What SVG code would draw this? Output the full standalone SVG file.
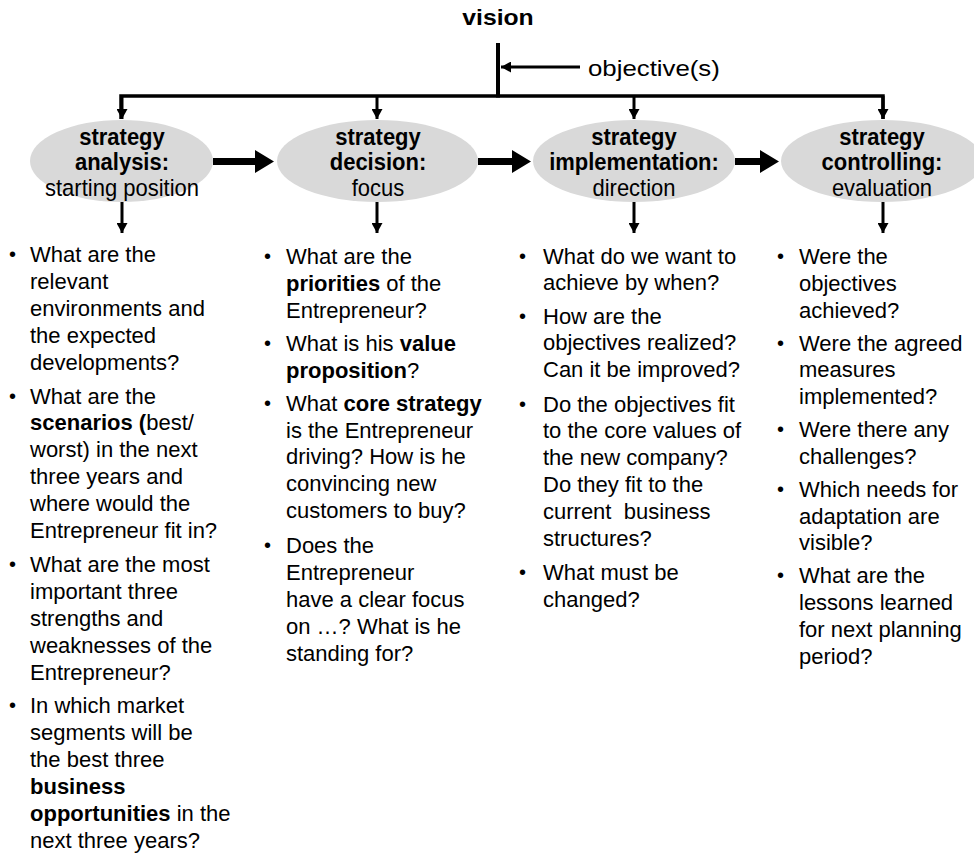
<svg xmlns="http://www.w3.org/2000/svg" width="974" height="853" viewBox="0 0 974 853">
<style>
text{font-family:"Liberation Sans",Arial,sans-serif;font-size:22px;fill:#000}
.b{font-weight:bold}
.c{text-anchor:middle}
.bul{font-size:20px}
.ell{fill:#d9d9d9;stroke:none}
.ln{stroke:#000;fill:none;stroke-width:3}
.big{fill:#000;stroke:none}
</style>
<defs>
<marker id="ah" markerUnits="userSpaceOnUse" markerWidth="11" markerHeight="11" refX="10" refY="5.5" orient="auto">
<path d="M0,0 L10,5.5 L0,11 z" fill="#000"/>
</marker>
</defs>
<rect width="974" height="853" fill="#fff"/>
<g id="connectors">
<line class="ln" x1="498" y1="43" x2="498" y2="97.5" style="stroke-width:4"/>
<line class="ln" x1="580" y1="67" x2="501" y2="67" marker-end="url(#ah)"/>
<polyline class="ln" points="121,119 121,96 377,96 634,96 883,96 883,119" style="stroke-width:3.5"/>
<line class="ln" x1="122" y1="96" x2="122" y2="119" marker-end="url(#ah)"/>
<line class="ln" x1="377" y1="96" x2="377" y2="119" marker-end="url(#ah)"/>
<line class="ln" x1="634" y1="96" x2="634" y2="119" marker-end="url(#ah)"/>
<line class="ln" x1="883" y1="96" x2="883" y2="119" marker-end="url(#ah)"/>
<line class="ln" x1="122" y1="202" x2="122" y2="233" marker-end="url(#ah)"/>
<line class="ln" x1="377" y1="202" x2="377" y2="233" marker-end="url(#ah)"/>
<line class="ln" x1="634" y1="202" x2="634" y2="233" marker-end="url(#ah)"/>
<line class="ln" x1="883" y1="202" x2="883" y2="233" marker-end="url(#ah)"/>
<polygon class="big" points="213,158 255,158 255,150 274,161.5 255,173 255,165 213,165"/>
<polygon class="big" points="478,158 512,158 512,150 531,161.5 512,173 512,165 478,165"/>
<polygon class="big" points="735,158 760,158 760,150 779,161.5 760,173 760,165 735,165"/>
</g>
<g id="vision"><text class="b c" x="0" y="0" style="font-size:21.5px" transform="translate(498,25) scale(1.15,1)">vision</text></g>
<g id="objective"><text x="0" y="0" style="font-size:21.5px" transform="translate(588,76) scale(1.2,1)">objective(s)</text></g>
<g id="n1">
<ellipse class="ell" cx="121.5" cy="161" rx="91.5" ry="41"/>
<text class="c" transform="translate(0,170) scale(1,1.08) translate(0,-170)"><tspan class="b" x="122" y="146.85">strategy</tspan><tspan class="b" x="122" y="170.46">analysis:</tspan><tspan x="122" y="194.07">starting position</tspan></text>
</g>
<g id="n2">
<ellipse class="ell" cx="377.5" cy="161" rx="100.5" ry="41"/>
<text class="c" transform="translate(0,170) scale(1,1.08) translate(0,-170)"><tspan class="b" x="378" y="146.85">strategy</tspan><tspan class="b" x="378" y="170.46">decision:</tspan><tspan x="378" y="194.07">focus</tspan></text>
</g>
<g id="n3">
<ellipse class="ell" cx="634" cy="161" rx="101" ry="41"/>
<text class="c" transform="translate(0,170) scale(1,1.08) translate(0,-170)"><tspan class="b" x="634" y="146.85">strategy</tspan><tspan class="b" x="634" y="170.46">implementation:</tspan><tspan x="634" y="194.07">direction</tspan></text>
</g>
<g id="n4">
<ellipse class="ell" cx="882" cy="161" rx="101" ry="41"/>
<text class="c" transform="translate(0,170) scale(1,1.08) translate(0,-170)"><tspan class="b" x="882" y="146.85">strategy</tspan><tspan class="b" x="882" y="170.46">controlling:</tspan><tspan x="882" y="194.07">evaluation</tspan></text>
</g>
<g id="list1">
<text class="bul" x="9" y="261">•</text>
<text><tspan x="30" y="262">What are the</tspan><tspan x="30" y="288.9">relevant</tspan><tspan x="30" y="315.8">environments and</tspan><tspan x="30" y="342.7">the expected</tspan><tspan x="30" y="369.6">developments?</tspan></text>
<text class="bul" x="9" y="402.5">•</text>
<text><tspan x="30" y="403.5">What are the</tspan><tspan x="30" y="430.4"><tspan class="b">scenarios (</tspan>best/</tspan><tspan x="30" y="457.3">worst) in the next</tspan><tspan x="30" y="484.2">three years and</tspan><tspan x="30" y="511.1">where would the</tspan><tspan x="30" y="538">Entrepreneur fit in?</tspan></text>
<text class="bul" x="9" y="570.9">•</text>
<text><tspan x="30" y="571.9">What are the most</tspan><tspan x="30" y="598.8">important three</tspan><tspan x="30" y="625.7">strengths and</tspan><tspan x="30" y="652.6">weaknesses of the</tspan><tspan x="30" y="679.5">Entrepreneur?</tspan></text>
<text class="bul" x="9" y="712.4">•</text>
<text><tspan x="30" y="713.4">In which market</tspan><tspan x="30" y="740.3">segments will be</tspan><tspan x="30" y="767.2">the best three</tspan><tspan class="b" x="30" y="794.1">business</tspan><tspan x="30" y="821"><tspan class="b">opportunities</tspan> in the</tspan><tspan x="30" y="847.9">next three years?</tspan></text>
</g>
<g id="list2">
<text class="bul" x="264" y="263">•</text>
<text><tspan x="286" y="264">What are the</tspan><tspan x="286" y="290.9"><tspan class="b">priorities</tspan> of the</tspan><tspan x="286" y="317.7">Entrepreneur?</tspan></text>
<text class="bul" x="264" y="349.8">•</text>
<text><tspan x="286" y="350.8">What is his <tspan class="b">value</tspan></tspan><tspan x="286" y="377.6"><tspan class="b">proposition</tspan>?</tspan></text>
<text class="bul" x="264" y="409.7">•</text>
<text><tspan x="286" y="410.7">What <tspan class="b">core strategy</tspan></tspan><tspan x="286" y="437.5">is the Entrepreneur</tspan><tspan x="286" y="464.4">driving? How is he</tspan><tspan x="286" y="491.2">convincing new</tspan><tspan x="286" y="518.1">customers to buy?</tspan></text>
<text class="bul" x="264" y="552">•</text>
<text><tspan x="286" y="553">Does the</tspan><tspan x="286" y="579.9">Entrepreneur</tspan><tspan x="286" y="606.8">have a clear focus</tspan><tspan x="286" y="633.7">on …? What is he</tspan><tspan x="286" y="660.6">standing for?</tspan></text>
</g>
<g id="list3">
<text class="bul" x="519" y="262.5">•</text>
<text><tspan x="543" y="263.5">What do we want to</tspan><tspan x="543" y="290.4">achieve by when?</tspan></text>
<text class="bul" x="519" y="322.5">•</text>
<text><tspan x="543" y="323.5">How are the</tspan><tspan x="543" y="350.4">objectives realized?</tspan><tspan x="543" y="377.3">Can it be improved?</tspan></text>
<text class="bul" x="519" y="410.5">•</text>
<text xml:space="preserve"><tspan x="543" y="411.5">Do the objectives fit</tspan><tspan x="543" y="438.4">to the core values of</tspan><tspan x="543" y="465.3">the new company?</tspan><tspan x="543" y="492.2">Do they fit to the</tspan><tspan x="543" y="519.1">current  business</tspan><tspan x="543" y="546">structures?</tspan></text>
<text class="bul" x="519" y="579">•</text>
<text><tspan x="543" y="580">What must be</tspan><tspan x="543" y="606.9">changed?</tspan></text>
</g>
<g id="list4">
<text class="bul" x="777" y="263">•</text>
<text><tspan x="799" y="264">Were the</tspan><tspan x="799" y="290.8">objectives</tspan><tspan x="799" y="317.6">achieved?</tspan></text>
<text class="bul" x="777" y="349.5">•</text>
<text><tspan x="799" y="350.5">Were the agreed</tspan><tspan x="799" y="377.3">measures</tspan><tspan x="799" y="404.1">implemented?</tspan></text>
<text class="bul" x="777" y="436">•</text>
<text><tspan x="799" y="437">Were there any</tspan><tspan x="799" y="463.8">challenges?</tspan></text>
<text class="bul" x="777" y="495.7">•</text>
<text><tspan x="799" y="496.7">Which needs for</tspan><tspan x="799" y="523.5">adaptation are</tspan><tspan x="799" y="550.3">visible?</tspan></text>
<text class="bul" x="777" y="582.2">•</text>
<text><tspan x="799" y="583.2">What are the</tspan><tspan x="799" y="610">lessons learned</tspan><tspan x="799" y="636.8">for next planning</tspan><tspan x="799" y="663.6">period?</tspan></text>
</g>
</svg>
